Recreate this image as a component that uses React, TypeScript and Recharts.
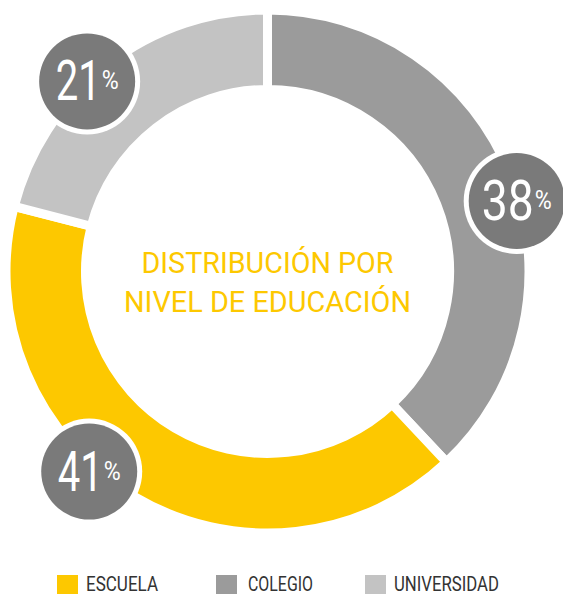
import React from 'react';
import { PieChart, Pie, Cell, Label, Legend } from 'recharts';

// ---- data ----
const categories = ['COLEGIO', 'ESCUELA', 'UNIVERSIDAD'];
const shares = [38, 41, 21];
const legendOrder = ['ESCUELA', 'COLEGIO', 'UNIVERSIDAD'];
const titleLines = ['DISTRIBUCIÓN POR', 'NIVEL DE EDUCACIÓN'];

// ---- styles ----
const COLORS: Record<string, string> = {
  ESCUELA: '#FDC800',
  COLEGIO: '#9B9B9B',
  UNIVERSIDAD: '#C3C3C3',
};
const BUBBLE = '#7A7A7A';
const FONT = 'Roboto, "DejaVu Sans", sans-serif';
const LABEL_ANGLE_SHIFT = [-5.8, -11.1, 5.7];
const LABEL_RADIUS = [259, 268, 262];
const DIGIT_WIDTH: Record<string, number> = { '21': 45, '38': 52, '41': 45 };
const LEGEND_POS = [
  { sq: 57, tx: 86, w: 72 },
  { sq: 216, tx: 248, w: 65 },
  { sq: 365, tx: 394, w: 105 },
];
const TITLE_WIDTHS = [252, 287];

const data = categories.map((c, i) => ({ name: c, value: shares[i] }));

const RAD = Math.PI / 180;

const renderBubble = (props: any) => {
  const { cx, cy, midAngle, index, value } = props;
  const a = (midAngle + LABEL_ANGLE_SHIFT[index]) * RAD;
  const x = cx + LABEL_RADIUS[index] * Math.cos(a);
  const y = cy - LABEL_RADIUS[index] * Math.sin(a);
  const digits = String(value);
  const dw = DIGIT_WIDTH[digits] ?? 48;
  const pw = 17;
  const total = dw + 1 + pw;
  const x0 = x - total / 2;
  return (
    <g key={`b-${index}`}>
      <circle cx={x} cy={y} r={53} fill="#FFFFFF" />
      <circle cx={x} cy={y} r={48} fill={BUBBLE} />
      <text x={x0} y={y + 19} fill="#FFFFFF" fontFamily={FONT} fontWeight={400}>
        <tspan fontSize={56} textLength={dw} lengthAdjust="spacingAndGlyphs">
          {digits}
        </tspan>
        <tspan fontSize={26} dx={1} dy={-11} textLength={pw} lengthAdjust="spacingAndGlyphs">
          %
        </tspan>
      </text>
    </g>
  );
};

const renderTitle = (props: any) => {
  const vb = props.viewBox || {};
  const cx = vb.cx ?? 267.5;
  const cy = vb.cy ?? 271.5;
  return (
    <g>
      {titleLines.map((t, i) => (
        <text
          key={t}
          x={cx}
          y={cy + 1.5 + i * 39}
          textAnchor="middle"
          fill={COLORS.ESCUELA}
          fontFamily={FONT}
          fontWeight={400}
          fontSize={29}
          textLength={TITLE_WIDTHS[i]}
          lengthAdjust="spacingAndGlyphs"
        >
          {t}
        </text>
      ))}
    </g>
  );
};

const renderLegend = () => (
  <svg width={563} height={19} style={{ display: 'block', overflow: 'visible' }}>
    {legendOrder.map((name, i) => (
      <g key={name}>
        <rect x={LEGEND_POS[i].sq} y={0} width={21} height={21} fill={COLORS[name]} />
        <text
          x={LEGEND_POS[i].tx}
          y={16}
          fill="#333333"
          fontFamily={FONT}
          fontSize={19.5}
          textLength={LEGEND_POS[i].w}
          lengthAdjust="spacingAndGlyphs"
        >
          {name}
        </text>
      </g>
    ))}
  </svg>
);

export default function App() {
  return (
    <div style={{ position: 'fixed', left: 0, top: 0, width: 563, height: 594, background: '#FFFFFF', overflow: 'hidden' }}>
      <PieChart width={563} height={594} margin={{ top: 0, right: 0, bottom: 0, left: 0 }}>
        <Pie
          data={data}
          dataKey="value"
          nameKey="name"
          cx={267.5}
          cy={271.5}
          innerRadius={182}
          outerRadius={261.5}
          startAngle={90}
          endAngle={-270}
          stroke="#FFFFFF"
          strokeWidth={9}
          label={renderBubble}
          labelLine={false}
          isAnimationActive={false}
        >
          {data.map((d) => (
            <Cell key={d.name} fill={COLORS[d.name]} />
          ))}
          <Label position="center" content={renderTitle} />
        </Pie>
        <Legend
          content={renderLegend}
          wrapperStyle={{ position: 'absolute', left: 0, top: 575, width: 563, height: 19 }}
        />
      </PieChart>
    </div>
  );
}
